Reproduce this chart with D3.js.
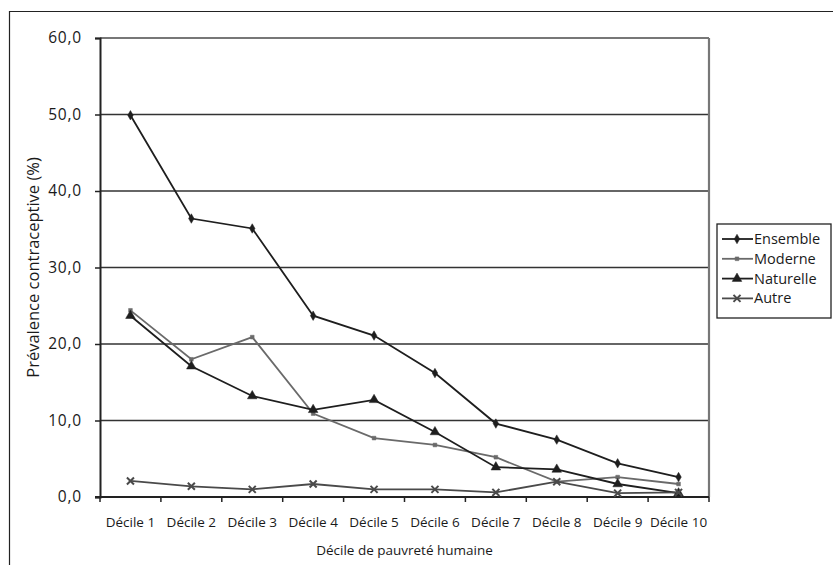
<!DOCTYPE html>
<html>
<head>
<meta charset="utf-8">
<script src="https://cdn.jsdelivr.net/npm/d3@7"></script>
<style>
    body { margin: 0; background: #fff; }
    text { font-family: "Open Sans", "Noto Sans", sans-serif; fill: #1a1a1a; }
</style>
</head>
<body>
<div id="chart"><svg width="833" height="565"></svg></div>
<script>
// values
var deciles = ['Décile 1', 'Décile 2', 'Décile 3', 'Décile 4', 'Décile 5',
               'Décile 6', 'Décile 7', 'Décile 8', 'Décile 9', 'Décile 10']
var ensemble  = [49.9, 36.4, 35.1, 23.7, 21.1, 16.2, 9.6, 7.5, 4.4, 2.6]
var moderne   = [24.4, 18.0, 20.9, 10.9, 7.7, 6.8, 5.2, 2.0, 2.6, 1.7]
var naturelle = [23.7, 17.1, 13.2, 11.4, 12.7, 8.5, 3.9, 3.6, 1.7, 0.5]
var autre     = [2.1, 1.4, 1.0, 1.7, 1.0, 1.0, 0.6, 2.0, 0.5, 0.6]
var yTicks = [0, 10, 20, 30, 40, 50, 60]

var seriesNames = ['Ensemble', 'Moderne', 'Naturelle', 'Autre']
var seriesValues = [ensemble, moderne, naturelle, autre]

function Chart(config){
    var width = config.width,
        height = config.height,
        margin = config.margin,
        svg, x, y

    var styles = {
        Ensemble:  {color: '#1e1e1e', sym: d3.symbolDiamond,  size: 26, fill: true},
        Moderne:   {color: '#6a6a6a', sym: d3.symbolSquare,   size: 14, fill: true},
        Naturelle: {color: '#1e1e1e', sym: d3.symbolTriangle, size: 40, fill: true},
        Autre:     {color: '#4a4a4a', sym: d3.symbolX,        size: 34, fill: false}
    }

    function chart(){
        svg = d3.select('#' + config.id).select('svg')
        drawFrame();
        drawAxes();
        drawLines();
        drawLegend();
    }

    const drawFrame = () => {
        // outer border, cut by the picture edges
        svg.append('path')
            .attr('d', 'M9.5,575 V11.5 H845')
            .attr('fill', 'none')
            .attr('stroke', '#222')
            .attr('stroke-width', 1.2)
    }

    const drawAxes = () => {
        x = d3.scaleBand().domain(deciles).range([margin.left, width - margin.right])
        y = d3.scaleLinear().domain([0, 60]).range([height - margin.bottom, margin.top])

        var g = svg.append('g')

        // gridlines
        g.selectAll('.grid').data(yTicks.filter(d => d > 0))
            .enter().append('line')
            .attr('x1', margin.left).attr('x2', width - margin.right)
            .attr('y1', d => y(d)).attr('y2', d => y(d))
            .attr('stroke', d => d == 60 ? '#777' : '#333')
            .attr('stroke-width', d => d == 60 ? 2 : 1.6)

        // right border of plot
        g.append('line')
            .attr('x1', width - margin.right).attr('x2', width - margin.right)
            .attr('y1', y(60)).attr('y2', y(0))
            .attr('stroke', '#777').attr('stroke-width', 2.2)

        var fmt = d => d3.format('.1f')(d).replace('.', ',')

        var yAxis = g.append('g')
            .attr('transform', 'translate(' + margin.left + ',0)')
            .call(d3.axisLeft(y).tickValues(yTicks).tickFormat(fmt).tickSize(5).tickPadding(13))
        yAxis.select('.domain').attr('stroke', '#222').attr('stroke-width', 2)
        yAxis.selectAll('.tick line').attr('stroke', '#222').attr('stroke-width', 1.5)
        yAxis.selectAll('text').attr('font-size', 15.5).attr('fill', '#1a1a1a')
            .attr('letter-spacing', 0.8)
            .style('font-family', '"Open Sans", sans-serif')

        var bounds = deciles.map(d => x(d)).concat([width - margin.right])
        var xAxis = g.append('g')
            .attr('transform', 'translate(0,' + y(0) + ')')
        xAxis.append('line')
            .attr('x1', margin.left - 5).attr('x2', width - margin.right)
            .attr('stroke', '#222').attr('stroke-width', 2)
        xAxis.selectAll('.xt').data(bounds)
            .enter().append('line')
            .attr('x1', d => d).attr('x2', d => d)
            .attr('y1', 0).attr('y2', 5)
            .attr('stroke', '#222').attr('stroke-width', 1.5)
        xAxis.selectAll('.xl').data(deciles)
            .enter().append('text')
            .attr('x', d => x(d) + x.bandwidth() / 2)
            .attr('y', 30)
            .attr('text-anchor', 'middle')
            .attr('font-size', 13.5)
            .text(d => d)

        svg.append('text')
            .attr('x', (margin.left + width - margin.right) / 2)
            .attr('y', 555)
            .attr('text-anchor', 'middle')
            .attr('font-size', 13.5)
            .text('Décile de pauvreté humaine')

        svg.append('text')
            .attr('transform', 'translate(39,' + (y(0) + y(60)) / 2 + ') rotate(-90)')
            .attr('text-anchor', 'middle')
            .attr('font-size', 16.5)
            .text('Prévalence contraceptive (%)')
    }

    const drawLines = () => {
        var line = d3.line()
            .x((d, i) => x(deciles[i]) + x.bandwidth() / 2)
            .y(d => y(d))

        seriesNames.forEach((name, k) => {
            var s = styles[name]
            var vals = seriesValues[k]
            var g = svg.append('g')
            g.append('path')
                .datum(vals)
                .attr('d', line)
                .attr('fill', 'none')
                .attr('stroke', s.color)
                .attr('stroke-width', 1.8)
            g.selectAll('path.m').data(vals)
                .enter().append('path')
                .attr('class', 'm')
                .attr('transform', (d, i) => 'translate(' + (x(deciles[i]) + x.bandwidth() / 2) + ',' + y(d) + ')')
                .attr('d', d3.symbol().type(s.sym).size(s.size))
                .attr('fill', s.fill ? s.color : 'none')
                .attr('stroke', s.color)
                .attr('stroke-width', s.fill ? 0.5 : 2)
        })
    }

    const drawLegend = () => {
        var lg = svg.append('g').attr('transform', 'translate(717,224)')
        lg.append('rect')
            .attr('width', 114).attr('height', 94)
            .attr('fill', '#fff')
            .attr('stroke', '#222').attr('stroke-width', 1.3)

        var items = lg.selectAll('g.item').data(seriesNames)
            .enter().append('g')
            .attr('transform', (d, i) => 'translate(0,' + (15 + i * 19.8) + ')')

        items.append('line')
            .attr('x1', 5).attr('x2', 36)
            .attr('stroke', d => styles[d].color)
            .attr('stroke-width', 1.8)
        items.append('path')
            .attr('transform', 'translate(20,0)')
            .attr('d', d => d3.symbol().type(styles[d].sym).size(styles[d].size)())
            .attr('fill', d => styles[d].fill ? styles[d].color : 'none')
            .attr('stroke', d => styles[d].color)
            .attr('stroke-width', d => styles[d].fill ? 0.5 : 2)
        items.append('text')
            .attr('x', 37).attr('y', 5)
            .attr('font-size', 14.5)
            .text(d => d)
    }

    return chart;
}

var chart = Chart({
    id: 'chart',
    width: 833,
    height: 565,
    margin: {top: 38, bottom: 68, left: 100, right: 124}
})
chart()
</script>
</body>
</html>
